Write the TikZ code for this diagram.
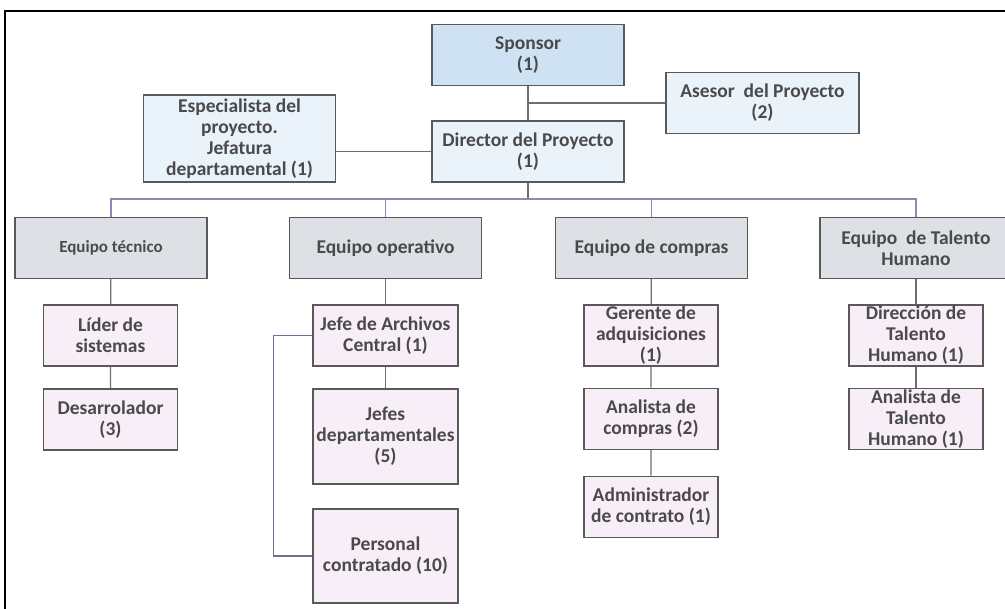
\documentclass[tikz,border=0pt]{standalone}
\usepackage{fontspec}
\setmainfont{Carlito}

\definecolor{boxline}{HTML}{595959}
\definecolor{txt}{HTML}{4A4A4A}
\definecolor{sponsorblue}{HTML}{CFE2F3}
\definecolor{paleblue}{HTML}{EAF2FA}
\definecolor{teamgray}{HTML}{DDE0E4}
\definecolor{rolepink}{HTML}{F7EEF8}
\definecolor{barline}{HTML}{8C88B8}
\definecolor{linkgray}{HTML}{6E6E6E}

\begin{document}
\begin{tikzpicture}[x=1pt, y=-1pt,
    box/.style={draw=boxline, line width=1.5pt, align=center, inner sep=0pt,
        text=txt, font=\fontsize{19.5}{21}\selectfont\bfseries},
    headbox/.style={box, fill=paleblue, minimum width=192, minimum height=61},
    teambox/.style={box, fill=teamgray, minimum width=192, minimum height=61},
    rolebox/.style={box, fill=rolepink, minimum width=134, minimum height=61},
    link/.style={draw=linkgray, line width=1.3pt}
]
    \useasboundingbox (0,0) rectangle (1005,609);
    \clip (0,0) rectangle (1005,609);

    % Draw the frame
    \draw[line width=2.5pt] (5,609) -- (5,11) -- (1005,11);

    % Top of the chart
    \node[headbox, fill=sponsorblue] (sponsor) at (528,55) {Sponsor\\(1)};
    \node[headbox, minimum width=193] (asesor) at (762.5,103) {Asesor\ \ del Proyecto\\(2)};
    \node[headbox, minimum height=87] (especialista) at (239.5,138.5)
        {Especialista del\\proyecto.\\Jefatura\\departamental (1)};
    \node[headbox] (director) at (528,151.5) {Director del Proyecto\\(1)};

    % Teams
    \node[teambox, font=\fontsize{17}{21}\selectfont\bfseries] (tecnico) at (111,248) {Equipo t\'ecnico};
    \node[teambox] (operativo) at (385.5,248) {Equipo operativo};
    \node[teambox] (compras) at (651.5,248) {Equipo de compras};
    \node[teambox] (talento) at (916,248) {Equipo\ \ de Talento\\Humano};

    % Roles
    \node[rolebox] (lider) at (110.5,335.5) {L\'ider de\\sistemas};
    \node[rolebox] (desarrollador) at (110.5,419.5) {Desarrolador\\(3)};
    \node[rolebox, minimum width=145] (jefearch) at (385.5,335.5) {Jefe de Archivos\\Central (1)};
    \node[rolebox, minimum width=145, minimum height=95] (jefesdep) at (385.5,436.5)
        {Jefes\\departamentales\\(5)};
    \node[rolebox, minimum width=145, minimum height=94] (personal) at (385.5,556)
        {Personal\\contratado (10)};
    \node[rolebox] (gerente) at (651,335.5) {Gerente de\\adquisiciones\\(1)};
    \node[rolebox] (analcomp) at (651,419) {Analista de\\compras (2)};
    \node[rolebox] (admin) at (651,507) {Administrador\\de contrato (1)};
    \node[rolebox] (dirtal) at (916,335.5) {Direcci\'on de\\Talento\\Humano (1)};
    \node[rolebox] (analtal) at (916,419) {Analista de\\Talento\\Humano (1)};

    % Draw the links at the top
    \draw[link] (sponsor) -- (director);
    \draw[link] (sponsor.south |- asesor.west) -- (asesor.west);
    \draw[link] (director.west) -- (director.west -| especialista.east);

    % Draw the bar to the teams
    \coordinate (bar) at (528,199);
    \draw[link] (director.south) -- (bar);
    \draw[link, draw=barline] (tecnico.north) |- (bar) -| (talento.north);
    \draw[link, draw=barline] (operativo.north) -- (operativo.north |- bar);
    \draw[link, draw=barline] (compras.north) -- (compras.north |- bar);

    % Draw the links inside the teams
    \draw[link] (tecnico) -- (lider) -- (desarrollador);
    \draw[link] (operativo) -- (jefearch) -- (jefesdep);
    \draw[link, draw=barline!80!black] (jefearch.west) -- ++(-39,0) |- (personal.west);
    \draw[link] (compras) -- (gerente) -- (analcomp) -- (admin);
    \draw[link] (talento) -- (dirtal) -- (analtal);
\end{tikzpicture}
\end{document}
